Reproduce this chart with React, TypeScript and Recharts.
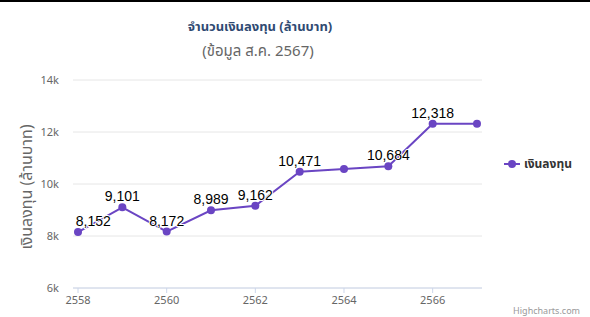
import React from "react";
import { LineChart, Line, XAxis, YAxis, CartesianGrid, LabelList } from "recharts";

const years = [2558, 2559, 2560, 2561, 2562, 2563, 2564, 2565, 2566, 2567];
const investment = [8152, 9101, 8172, 8989, 9162, 10471, 10580, 10684, 12318, 12318];
const shownLabels = [true, true, true, true, true, true, false, true, true, false];
const xTicks = [2558, 2560, 2562, 2564, 2566];
const yTicks = [6000, 8000, 10000, 12000, 14000];

const title = "จำนวนเงินลงทุน (ล้านบาท)";
const subtitle = "(ข้อมูล ส.ค. 2567)";
const yTitle = "เงินลงทุน (ล้านบาท)";
const seriesName = "เงินลงทุน";

const data = years.map((y, i) => ({
  year: y,
  value: investment[i],
  label: shownLabels[i] ? investment[i].toLocaleString("en-US") : null,
}));

const W = 590;
const H = 317;
const PLOT_LEFT = 73;
const COLOR = "#6a45c3";
const THAI = "'Noto Sans Thai', 'Noto Sans', 'DejaVu Sans', sans-serif";

const DataLabel = (props: any) => {
  const { x, y, value } = props;
  if (value == null) return null;
  const w = String(value).length * 7.3;
  let cx = x;
  if (cx - w / 2 < PLOT_LEFT + 2) cx = PLOT_LEFT + 2 + w / 2;
  return (
    <text
      x={cx}
      y={y - 6}
      textAnchor="middle"
      fontSize={14}
      fontFamily="'Liberation Sans', Arial, sans-serif"
      fill="#000"
      stroke="#fff"
      strokeWidth={2}
      paintOrder="stroke"
      strokeLinejoin="round"
    >
      {value}
    </text>
  );
};

const YTick = (props: any) => {
  const { y, payload } = props;
  return (
    <text x={59} y={y + 4} textAnchor="end" fontSize={11} fill="#666" fontFamily={THAI}>
      {payload.value / 1000 + "k"}
    </text>
  );
};

const XTick = (props: any) => {
  const { x, y, payload } = props;
  return (
    <text x={x} y={y + 9} textAnchor="middle" fontSize={11} fill="#666" fontFamily={THAI}>
      {payload.value}
    </text>
  );
};

export default function App() {
  return (
    <div style={{ position: "absolute", left: 0, top: 0, width: W, height: H, background: "#fff" }}>
      <LineChart
        width={W}
        height={H}
        data={data}
        margin={{ top: 80, right: W - 482, bottom: 0, left: 0 }}
      >
        <CartesianGrid horizontal vertical={false} stroke="#e6e6e6" />
        <XAxis
          dataKey="year"
          type="number"
          domain={[2557.887, 2567.113]}
          allowDataOverflow
          ticks={xTicks}
          tick={<XTick />}
          tickLine={{ stroke: "#ccd6eb" }}
          tickSize={5}
          axisLine={{ stroke: "#ccd6eb" }}
          height={H - 288}
        />
        <YAxis
          type="number"
          domain={[6000, 14000]}
          ticks={yTicks}
          tick={<YTick />}
          axisLine={false}
          tickLine={false}
          width={PLOT_LEFT}
        />
        <Line
          type="linear"
          dataKey="value"
          name={seriesName}
          stroke={COLOR}
          strokeWidth={2}
          dot={{ r: 4, fill: COLOR, stroke: COLOR, strokeWidth: 0 }}
          activeDot={false}
          isAnimationActive={false}
        >
          <LabelList dataKey="label" content={<DataLabel />} />
        </Line>
      </LineChart>
      <svg
        width={W}
        height={H}
        style={{ position: "absolute", left: 0, top: 0, pointerEvents: "none" }}
      >
        <rect x={0} y={0} width={W} height={2} fill="#000" />
        <text x={260} y={31} textAnchor="middle" fontSize={13} fontWeight={700} fill="#2f4a72" fontFamily={THAI}>
          {title}
        </text>
        <text x={258} y={56} textAnchor="middle" fontSize={15} fill="#666" fontFamily={THAI}>
          {subtitle}
        </text>
        <text
          x={0}
          y={0}
          transform="translate(32,187) rotate(-90)"
          textAnchor="middle"
          fontSize={16}
          fill="#666"
          fontFamily={THAI}
        >
          {yTitle}
        </text>
        <line x1={504} y1={164} x2={520} y2={164} stroke={COLOR} strokeWidth={2} />
        <circle cx={512} cy={164} r={4} fill={COLOR} />
        <text x={524} y={168} fontSize={12} fontWeight={700} fill="#333" fontFamily={THAI}>
          {seriesName}
        </text>
        <text x={580} y={314} textAnchor="end" fontSize={9} fill="#999" fontFamily={THAI}>
          Highcharts.com
        </text>
      </svg>
    </div>
  );
}
